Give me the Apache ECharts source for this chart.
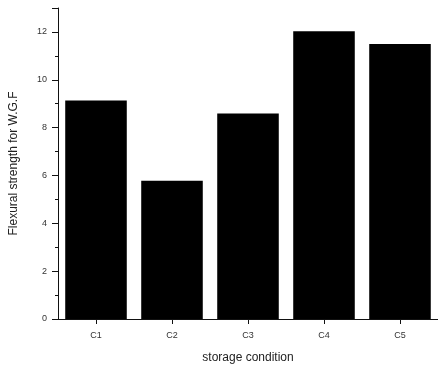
<!DOCTYPE html>
<html>
<head>
<meta charset="utf-8">
<script src="https://cdn.jsdelivr.net/npm/echarts@6/dist/echarts.min.js"></script>
<style>
  html, body { margin: 0; padding: 0; background: #fff; }
  #chart { width: 438px; height: 369px; }
</style>
</head>
<body>
<div id="chart"></div>
<script>
// storage conditions and flexural strength values
const categories = ['C1', 'C2', 'C3', 'C4', 'C5']
const strength = [9.13, 5.78, 8.59, 12.03, 11.5]
const yTicks = [0, 2, 4, 6, 8, 10, 12]

let chart = echarts.init(document.getElementById('chart'))

let labelFont = { color: '#333', fontSize: 9, fontFamily: 'Liberation Sans' }

let option = {
    animation: false,
    grid: {
        left: 55,
        top: 8,
        width: 385,
        height: 313
    },
    xAxis: [{
        type: 'category',
        data: categories,
        name: 'storage condition',
        nameLocation: 'middle',
        nameGap: 33,
        nameTextStyle: { color: '#222', fontSize: 12, fontFamily: 'Liberation Sans' },
        axisLine: { lineStyle: { color: '#111', width: 1 } },
        // boundary ticks
        axisTick: { length: 5, lineStyle: { color: '#111' } },
        axisLabel: Object.assign({ margin: 12 }, labelFont)
    }, {
        // center ticks under each label
        type: 'category',
        data: categories,
        position: 'bottom',
        axisLine: { show: false },
        axisTick: { show: true, alignWithLabel: true, length: 5, lineStyle: { color: '#111', width: 1 } },
        axisLabel: { show: false }
    }],
    yAxis: {
        type: 'value',
        min: 0,
        max: 13,
        interval: 2,
        name: 'Flexural strength for W.G.F',
        nameLocation: 'middle',
        nameGap: 38,
        nameTextStyle: { color: '#222', fontSize: 12, fontFamily: 'Liberation Sans' },
        axisLine: { show: true, lineStyle: { color: '#111', width: 1 } },
        axisTick: { show: true, length: 6, lineStyle: { color: '#111' } },
        minorTick: { show: true, splitNumber: 2, length: 3, lineStyle: { color: '#111' } },
        splitLine: { show: false },
        axisLabel: Object.assign({
            margin: 11,
            formatter: function (v) { return yTicks.indexOf(v) >= 0 ? v : '' }
        }, labelFont)
    },
    series: [{
        type: 'bar',
        data: strength,
        barCategoryGap: '19%',
        itemStyle: { color: '#000' }
    }]
}
chart.setOption(option)
</script>
</body>
</html>
